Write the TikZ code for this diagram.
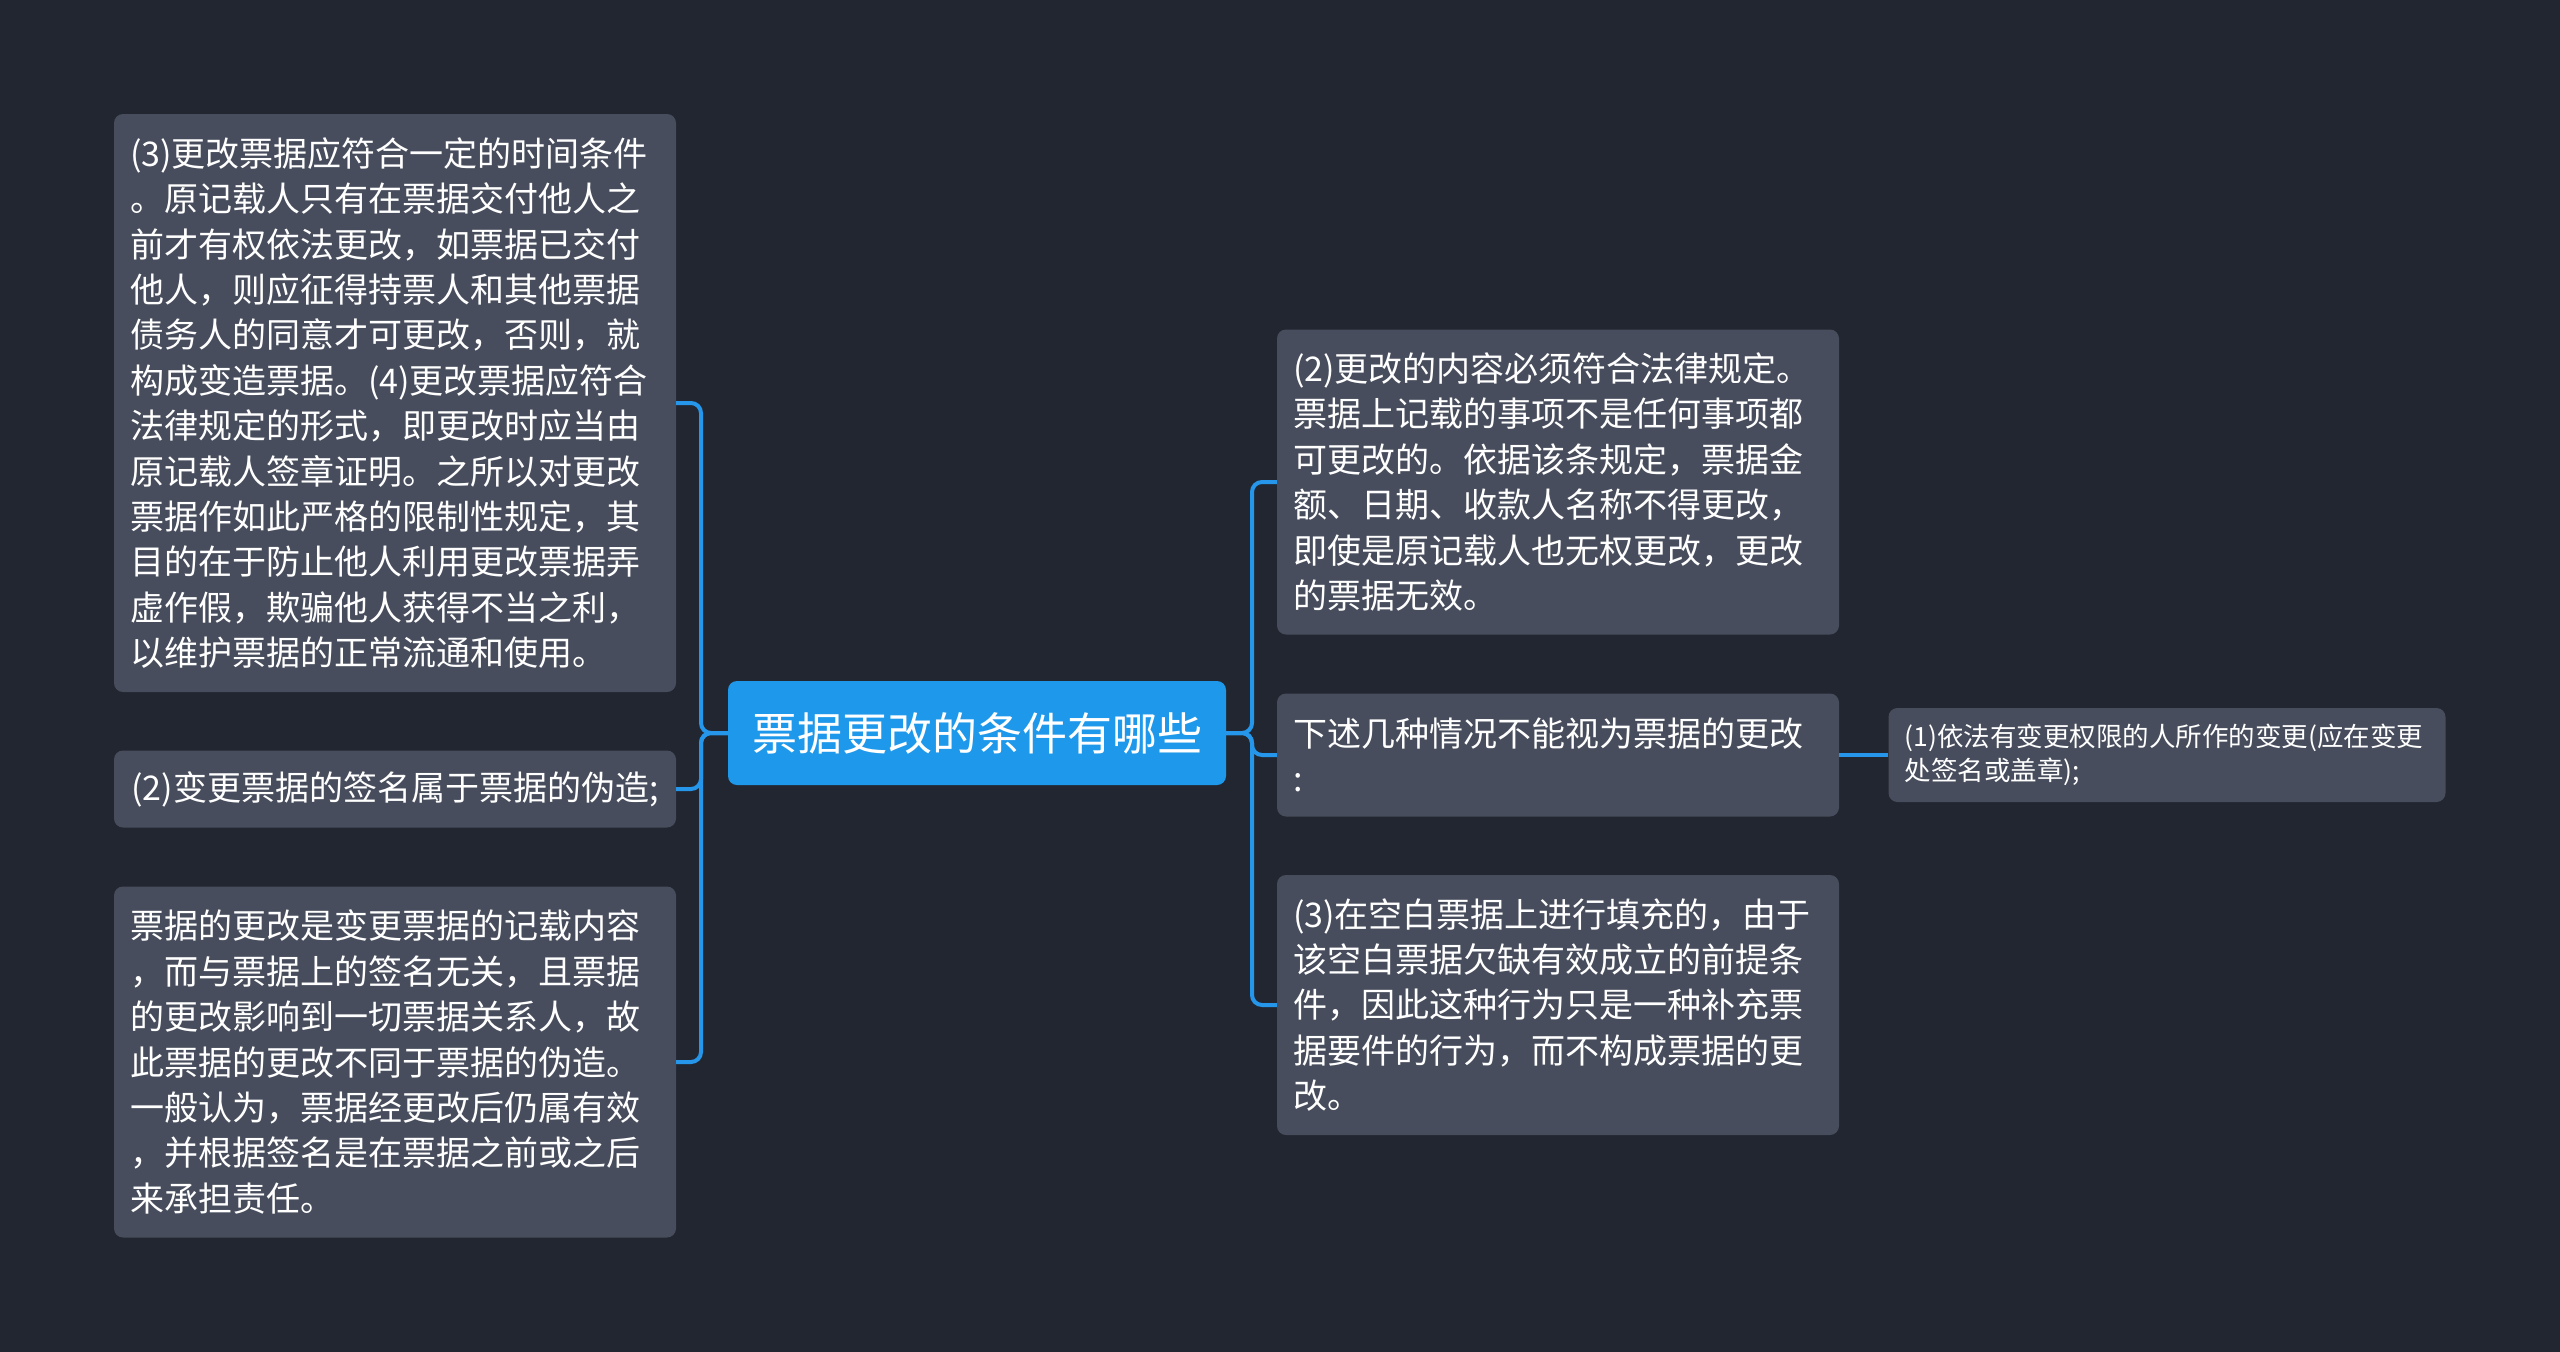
\documentclass[tikz,border=0pt]{standalone}
\usepackage{fontspec}
\setmainfont{Noto Sans CJK SC}
\usepackage{xcolor}
\usetikzlibrary{positioning}

\definecolor{bgdark}{HTML}{222631}
\definecolor{boxgray}{HTML}{474D5C}
\definecolor{rootblue}{HTML}{1E98EA}
\definecolor{linkblue}{HTML}{2596EA}

\begin{document}
\begin{tikzpicture}[
    x=1pt, y=-1pt,
    box/.style={rectangle, rounded corners=9pt, fill=boxgray, text=white, text width=530pt, inner xsep=16pt, inner ysep=0pt, align=left, font=\fontsize{34}{45.4}\selectfont},
    rootbox/.style={rectangle, rounded corners=9pt, fill=rootblue, text=white, minimum width=498pt, minimum height=104pt, inner sep=0pt, font=\fontsize{45}{54}\selectfont},
    smallbox/.style={box, text width=525pt, inner xsep=16pt, font=\fontsize{26.5}{34}\selectfont},
    link/.style={draw=linkblue, line width=4pt, rounded corners=10pt}
]
    % Background
    \fill[bgdark] (0,0) rectangle (2560,1352);

    % Central topic
    \node[rootbox] (main) at (977,733) {票据更改的条件有哪些};

    % Left branches
    \node[box, minimum height=578pt] (timing) at (395,403) {(3)更改票据应符合一定的时间条件\\。原记载人只有在票据交付他人之\\前才有权依法更改，如票据已交付\\他人，则应征得持票人和其他票据\\债务人的同意才可更改，否则，就\\构成变造票据。(4)更改票据应符合\\法律规定的形式，即更改时应当由\\原记载人签章证明。之所以对更改\\票据作如此严格的限制性规定，其\\目的在于防止他人利用更改票据弄\\虚作假，欺骗他人获得不当之利，\\以维护票据的正常流通和使用。};
    \node[box, minimum height=77pt, align=center] (signature) at (395,789) {(2)变更票据的签名属于票据的伪造;};
    \node[box, minimum height=351pt] (definition) at (395,1062) {票据的更改是变更票据的记载内容\\，而与票据上的签名无关，且票据\\的更改影响到一切票据关系人，故\\此票据的更改不同于票据的伪造。\\一般认为，票据经更改后仍属有效\\，并根据签名是在票据之前或之后\\来承担责任。};

    % Right branches
    \node[box, minimum height=305pt] (legal) at (1558,482) {(2)更改的内容必须符合法律规定。\\票据上记载的事项不是任何事项都\\可更改的。依据该条规定，票据金\\额、日期、收款人名称不得更改，\\即使是原记载人也无权更改，更改\\的票据无效。};
    \node[box, minimum height=123pt] (cases) at (1558,755) {下述几种情况不能视为票据的更改\\:};
    \node[box, minimum height=260pt] (blank) at (1558,1005) {(3)在空白票据上进行填充的，由于\\该空白票据欠缺有效成立的前提条\\件，因此这种行为只是一种补充票\\据要件的行为，而不构成票据的更\\改。};
    \node[smallbox, minimum height=94pt] (authority) at (2167,755) {(1)依法有变更权限的人所作的变更(应在变更\\处签名或盖章);};

    % Forks
    \coordinate (lfork) at (701,733);
    \coordinate (rfork) at (1252,733);

    % Connectors
    \draw[link] (main.west) -- (lfork) |- (timing.east);
    \draw[link] (main.west) -- (lfork) |- (signature.east);
    \draw[link] (main.west) -- (lfork) |- (definition.east);
    \draw[link] (main.east) -- (rfork) |- (legal.west);
    \draw[link] (main.east) -- (rfork) |- (cases.west);
    \draw[link] (main.east) -- (rfork) |- (blank.west);
    \draw[link] (cases.east) -- (authority.west);
\end{tikzpicture}
\end{document}
